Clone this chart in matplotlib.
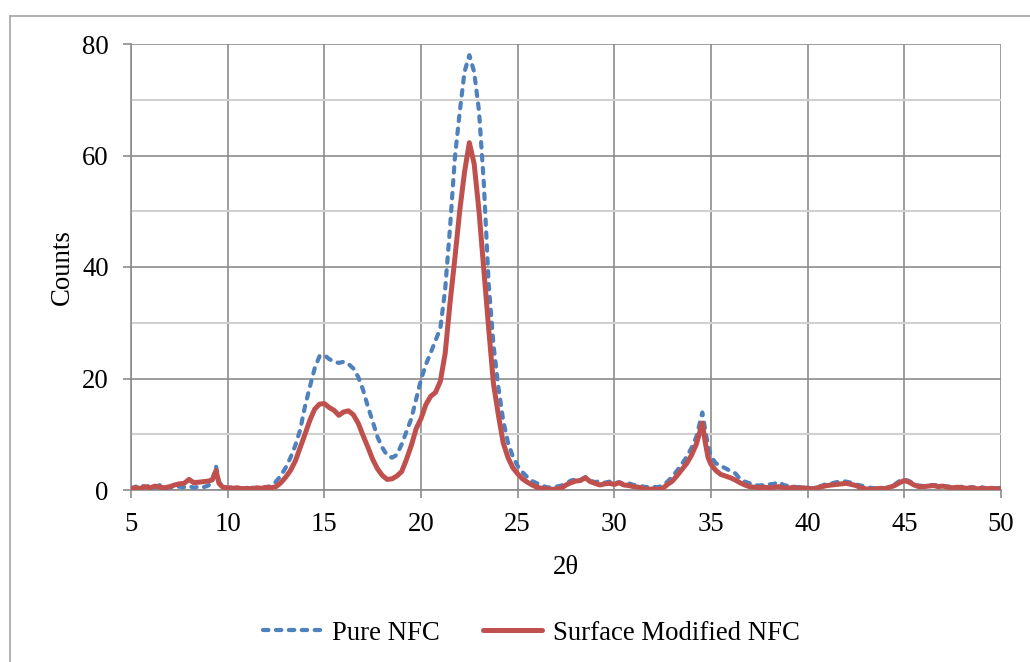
import matplotlib
matplotlib.use("Agg")
import matplotlib.pyplot as plt
from matplotlib.lines import Line2D
from matplotlib.ticker import MultipleLocator

plt.rcParams['font.family'] = ['Liberation Serif', 'DejaVu Serif']

# XRD scan: diffraction angle (2θ, degrees)
two_theta = [
    5.00, 5.25, 5.50, 5.75, 6.00, 6.25, 6.50, 6.75, 7.00, 7.25, 7.50, 7.75,
    8.00, 8.25, 8.50, 8.75, 9.00, 9.20, 9.40, 9.55, 9.75, 10.00, 10.25, 10.50,
    10.75, 11.00, 11.25, 11.50, 11.75, 12.00, 12.25, 12.50, 12.75, 13.00, 13.25,
    13.50, 13.75, 14.00, 14.25, 14.50, 14.75, 15.00, 15.25, 15.50, 15.75, 16.00,
    16.25, 16.50, 16.75, 17.00, 17.25, 17.50, 17.75, 18.00, 18.25, 18.50, 18.75,
    19.00, 19.25, 19.50, 19.75, 20.00, 20.25, 20.50, 20.75, 21.00, 21.25, 21.50,
    21.75, 22.00, 22.25, 22.50, 22.75, 23.00, 23.25, 23.50, 23.75, 24.00, 24.25,
    24.50, 24.75, 25.00, 25.25, 25.50, 25.75, 26.00, 26.25, 26.50, 26.75, 27.00,
    27.25, 27.50, 27.75, 28.00, 28.25, 28.50, 28.75, 29.00, 29.25, 29.50, 29.75,
    30.00, 30.25, 30.50, 30.75, 31.00, 31.25, 31.50, 31.75, 32.00, 32.25, 32.50,
    32.75, 33.00, 33.25, 33.50, 33.75, 34.00, 34.25, 34.45, 34.55, 34.70, 34.85,
    35.00, 35.25, 35.50, 35.75, 36.00, 36.25, 36.50, 36.75, 37.00, 37.25, 37.50,
    37.75, 38.00, 38.25, 38.50, 38.75, 39.00, 39.25, 39.50, 39.75, 40.00, 40.25,
    40.50, 40.75, 41.00, 41.25, 41.50, 41.75, 42.00, 42.25, 42.50, 42.75, 43.00,
    43.25, 43.50, 43.75, 44.00, 44.25, 44.50, 44.75, 45.00, 45.25, 45.50, 45.75,
    46.00, 46.25, 46.50, 46.75, 47.00, 47.25, 47.50, 47.75, 48.00, 48.25, 48.50,
    48.75, 49.00, 49.25, 49.50, 49.75, 50.00,
]

# Intensity counts, pure nanofibrillated cellulose
pure_nfc = [
    0.3, 0.6, 0.9, 0.5, 0.8, 0.4, 0.9, 0.3, 0.5, 0.4, 0.6, 0.5,
    0.7, 0.4, 0.6, 0.5, 0.8, 1.5, 4.2, 1.5, 0.4, 0.3, 0.5, 0.2,
    0.3, 0.2, 0.4, 0.3, 0.5, 0.4, 0.8, 1.5, 2.6, 4.0, 5.8,
    8.0, 10.8, 15.0, 18.5, 21.8, 24.0, 24.2, 23.5, 23.0, 22.8, 23.0,
    22.6, 21.8, 20.3, 18.0, 15.0, 12.3, 9.5, 7.6, 6.2, 5.8, 6.3,
    8.2, 10.5, 12.8, 16.3, 19.8, 22.5, 24.6, 26.8, 29.0, 36.0, 47.0,
    59.5, 67.7, 75.0, 78.0, 75.0, 68.0, 55.0, 37.0, 26.0, 18.5, 12.5,
    8.5, 6.0, 4.3, 3.2, 2.3, 1.6, 1.2, 0.8, 0.5, 0.4, 0.6,
    0.8, 1.1, 1.7, 1.9, 1.8, 2.3, 1.7, 1.4, 1.6, 1.3, 1.5,
    1.2, 1.4, 1.1, 1.2, 0.9, 0.8, 0.6, 0.5, 0.6, 0.5, 0.8,
    1.5, 2.4, 3.5, 4.7, 6.0, 7.6, 9.6, 12.5, 13.9, 10.8, 8.0,
    6.0, 4.8, 4.3, 3.9, 3.4, 3.0, 2.0, 1.5, 1.2, 0.9, 0.8,
    0.9, 1.0, 1.1, 1.4, 0.9, 0.7, 0.6, 0.5, 0.6, 0.4, 0.3,
    0.5, 0.8, 1.1, 1.2, 1.4, 1.6, 1.5, 1.3, 1.0, 0.8, 0.6,
    0.4, 0.3, 0.4, 0.3, 0.6, 1.0, 1.6, 1.9, 1.6, 1.1, 0.8,
    0.7, 0.8, 0.9, 0.8, 0.7, 0.6, 0.7, 0.5, 0.6, 0.4, 0.5,
    0.4, 0.5, 0.3, 0.4, 0.3, 0.4,
]

# Intensity counts, surface modified nanofibrillated cellulose
modified_nfc = [
    0.2, 0.4, 0.3, 0.6, 0.4, 0.7, 0.5, 0.4, 0.6, 0.9, 1.1, 1.2,
    1.9, 1.3, 1.4, 1.5, 1.6, 1.8, 3.5, 1.2, 0.5, 0.4, 0.3, 0.4,
    0.2, 0.3, 0.2, 0.4, 0.3, 0.5, 0.4, 0.6, 1.3, 2.3, 3.5,
    5.2, 7.6, 10.0, 12.5, 14.5, 15.4, 15.5, 14.8, 14.3, 13.4, 14.0,
    14.2, 13.5, 12.0, 9.8, 7.7, 5.5, 3.8, 2.6, 1.9, 2.0, 2.5,
    3.3, 5.5, 8.0, 11.0, 12.8, 15.3, 16.8, 17.5, 19.5, 24.5, 33.5,
    41.5, 50.0, 57.0, 62.3, 58.5, 50.0, 39.5, 29.0, 19.0, 13.5, 8.5,
    5.8, 4.0, 2.9, 2.0, 1.4, 0.9, 0.5, 0.3, 0.2, 0.1, 0.2,
    0.3, 0.9, 1.3, 1.6, 1.7, 2.2, 1.5, 1.2, 0.9, 1.1, 1.2,
    1.0, 1.3, 0.9, 0.8, 0.6, 0.5, 0.3, 0.1, 0.2, 0.1, 0.3,
    1.0, 1.6, 2.6, 3.7, 4.8, 6.3, 8.3, 10.8, 12.0, 8.6, 5.8,
    4.6, 3.5, 2.8, 2.5, 2.2, 1.8, 1.3, 0.9, 0.6, 0.5, 0.4,
    0.5, 0.4, 0.5, 0.6, 0.4, 0.3, 0.5, 0.3, 0.4, 0.3, 0.2,
    0.4, 0.6, 0.8, 0.9, 1.0, 1.1, 1.2, 1.0, 0.8, 0.4, 0.2,
    0.1, 0.2, 0.3, 0.2, 0.5, 0.8, 1.3, 1.7, 1.4, 0.9, 0.6,
    0.6, 0.7, 0.8, 0.6, 0.7, 0.5, 0.4, 0.5, 0.4, 0.3, 0.4,
    0.2, 0.3, 0.2, 0.3, 0.2, 0.2,
]

series_labels = ["Pure NFC", "Surface Modified NFC"]
x_ticks = [5, 10, 15, 20, 25, 30, 35, 40, 45, 50]
y_ticks = [0, 20, 40, 60, 80]

BLUE = "#4F81BD"
RED = "#C0504D"
MAJOR_GRID = "#8C8C8C"
MINOR_GRID = "#D0D0D0"
FS = 19.3

fig = plt.figure(figsize=(10.30, 6.62), dpi=100)
ax = fig.add_axes([131 / 1030, 1 - 490 / 662, 870 / 1030, 446 / 662])

ax.plot(two_theta, pure_nfc, color=BLUE, lw=3.0, ls=(0, (1.3, 1.8)),
        dash_capstyle="round", solid_capstyle="round", label=series_labels[0],
        zorder=3)
ax.plot(two_theta, modified_nfc, color=RED, lw=3.6, solid_capstyle="round",
        solid_joinstyle="round", label=series_labels[1], zorder=4)

ax.set_xlim(5, 50)
ax.set_ylim(0, 80)
ax.set_xticks(x_ticks)
ax.set_yticks(y_ticks)
ax.yaxis.set_minor_locator(MultipleLocator(10))

ax.grid(True, which="major", color=MAJOR_GRID, lw=1.2, zorder=0)
ax.grid(True, which="minor", axis="y", color=MINOR_GRID, lw=1.5, zorder=0)
ax.set_axisbelow(True)

for side in ("top", "right"):
    ax.spines[side].set_visible(False)
for side in ("left", "bottom"):
    ax.spines[side].set_color(MAJOR_GRID)
    ax.spines[side].set_linewidth(1.2)

ax.tick_params(which="major", direction="out", length=6, width=1.2,
               color=MAJOR_GRID, labelsize=FS, labelcolor="black")
ax.tick_params(axis="y", which="major", pad=10)
ax.tick_params(axis="x", which="major", pad=10)
ax.tick_params(which="minor", length=0)

ax.set_xlabel("2θ", fontsize=FS, labelpad=13)
ax.set_ylabel("Counts", fontsize=FS, labelpad=5)

leg = fig.legend(loc="center", bbox_to_anchor=(531 / 1030, 1 - 633 / 662),
                 ncol=2, frameon=False, fontsize=FS, handlelength=2.2,
                 handletextpad=0.4, columnspacing=1.6)

# outer chart frame
frame_color = "#A6A6A6"
fig.add_artist(Line2D([9.5 / 1030, 9.5 / 1030], [0, 1 - 15.5 / 662],
                      transform=fig.transFigure, color=frame_color, lw=1.2))
fig.add_artist(Line2D([9.5 / 1030, 1], [1 - 15.5 / 662, 1 - 15.5 / 662],
                      transform=fig.transFigure, color=frame_color, lw=1.2))

fig.savefig("out.png", dpi=100, facecolor="white")
